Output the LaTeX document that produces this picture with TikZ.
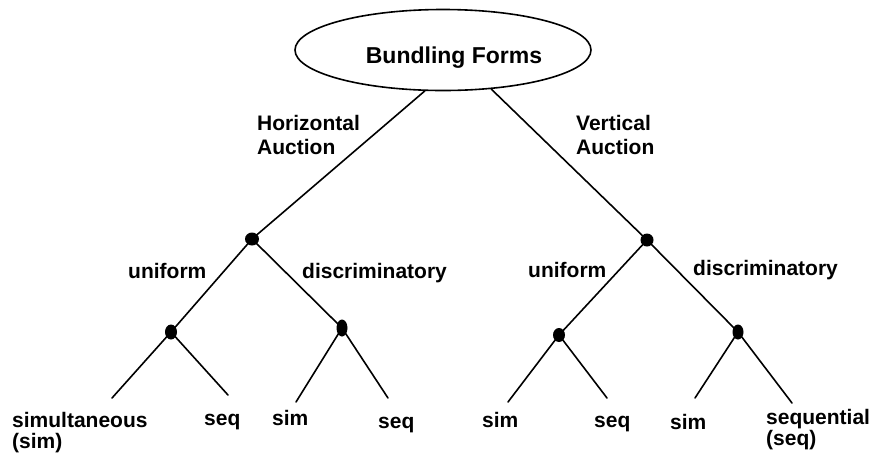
\documentclass[tikz,border=0pt]{standalone}
\usepackage{fontspec}
\setmainfont{Liberation Sans}
\usetikzlibrary{shapes.geometric}
\begin{document}
\begin{tikzpicture}[x=1pt,y=-1pt,
  branch/.style={line width=1.6pt,line cap=round},
  knot/.style={ellipse,fill=black,draw=none,inner sep=0pt,minimum width=12pt,minimum height=15pt},
  lab/.style={font=\bfseries\fontsize{21}{21}\selectfont,inner sep=0pt,anchor=base west,align=left},
  hilab/.style={lab,font=\bfseries\fontsize{21}{24}\selectfont}]
\useasboundingbox (0,0) rectangle (873,456);

% root ellipse and its title
\node[ellipse,draw,line width=1.6pt,minimum width=296pt,minimum height=81pt,inner sep=0pt] (root) at (443,50) {};
\node[inner sep=0pt,anchor=base,font=\bfseries\fontsize{23}{23}\selectfont] (title) at (454,63) {Bundling Forms};

% branching points
\node[knot,minimum width=14pt,minimum height=13pt] (h) at (252,239) {};
\node[knot,minimum width=13pt,minimum height=13pt] (v) at (647,240) {};
\node[knot] (hu) at (171,332) {};
\node[knot,minimum width=11pt,minimum height=17pt] (hd) at (342,328) {};
\node[knot,minimum height=14pt] (vu) at (559,335) {};
\node[knot,minimum width=11pt] (vd) at (738,332) {};

% free ends of the leaf branches
\coordinate (hu1) at (112,398);
\coordinate (hu2) at (228,395);
\coordinate (hd1) at (296,402);
\coordinate (hd2) at (388,398);
\coordinate (vu1) at (508,402);
\coordinate (vu2) at (607,398);
\coordinate (vd1) at (695,398);
\coordinate (vd2) at (792,403);

% branches
\draw[branch] (root.246) -- (h.center);
\draw[branch] (root.321) -- (v.center);
\draw[branch] (h.center) -- (hu.center);
\draw[branch] (h.center) -- (hd.center);
\draw[branch] (v.center) -- (vu.center);
\draw[branch] (v.center) -- (vd.center);
\draw[branch] (hu.center) -- (hu1);
\draw[branch] (hu.center) -- (hu2);
\draw[branch] (hd.center) -- (hd1);
\draw[branch] (hd.center) -- (hd2);
\draw[branch] (vu.center) -- (vu1);
\draw[branch] (vu.center) -- (vu2);
\draw[branch] (vd.center) -- (vd1);
\draw[branch] (vd.center) -- (vd2);

% branch labels (two-line nodes are placed by their last baseline)
\node[hilab] (lhor) at (257,154) {Horizontal\\Auction};
\node[hilab] (lver) at (576,154) {Vertical\\Auction};
\node[lab] (lhu) at (128,278) {uniform};
\node[lab] (lhd) at (302,278) {discriminatory};
\node[lab] (lvu) at (528,277) {uniform};
\node[lab] (lvd) at (693,275) {discriminatory};

% leaf labels
\node[lab] (t1) at (12,448) {simultaneous\\(sim)};
\node[lab] (t2) at (204,425) {seq};
\node[lab] (t3) at (272,425) {sim};
\node[lab] (t4) at (378,428) {seq};
\node[lab] (t5) at (482,427) {sim};
\node[lab] (t6) at (594,427) {seq};
\node[lab] (t7) at (670,429) {sim};
\node[lab] (t8) at (766,445) {sequential\\(seq)};
\end{tikzpicture}
\end{document}
